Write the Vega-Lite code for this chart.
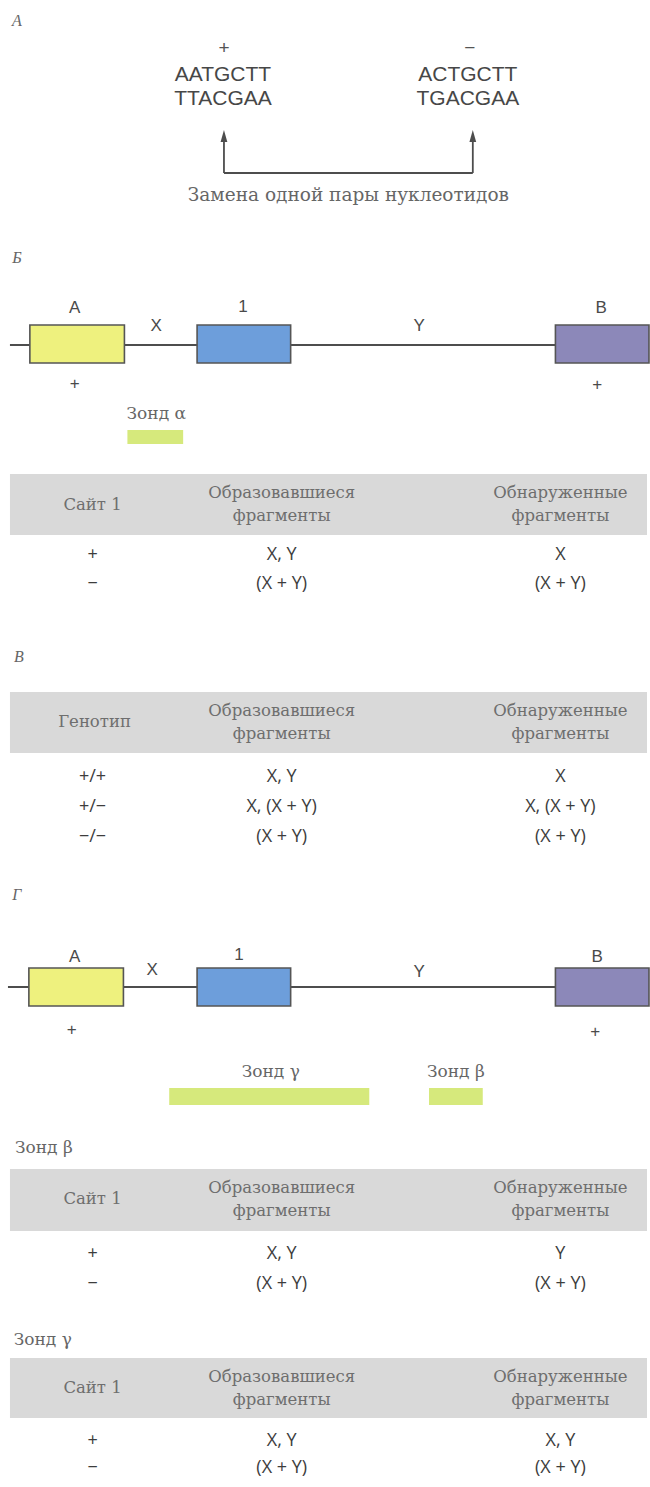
{
  "$schema": "https://vega.github.io/schema/vega-lite/v6.json",
  "autosize": {"type": "fit", "contains": "padding"},
  "width": 650,
  "height": 1487,
  "padding": 0,
  "background": "#ffffff",
  "config": {"view": {"stroke": null}},
  "datasets": {
    "rects": [
      {"kind": "band", "x1": 10, "x2": 650, "y1": 474, "y2": 535},
      {"kind": "band", "x1": 10, "x2": 650, "y1": 692, "y2": 753},
      {"kind": "band", "x1": 10, "x2": 650, "y1": 1169, "y2": 1231},
      {"kind": "band", "x1": 10, "x2": 650, "y1": 1358, "y2": 1418},
      {"kind": "probe", "x1": 128, "x2": 184, "y1": 430, "y2": 444},
      {"kind": "probe", "x1": 170, "x2": 371, "y1": 1088, "y2": 1105},
      {"kind": "probe", "x1": 431, "x2": 485, "y1": 1088, "y2": 1105}
    ],
    "genes": [
      {"gene": "A", "x1": 30, "x2": 125, "y1": 325, "y2": 363},
      {"gene": "1", "x1": 198, "x2": 292, "y1": 325, "y2": 363},
      {"gene": "B", "x1": 558, "x2": 652, "y1": 325, "y2": 363},
      {"gene": "A", "x1": 29, "x2": 124, "y1": 968, "y2": 1006},
      {"gene": "1", "x1": 198, "x2": 292, "y1": 968, "y2": 1006},
      {"gene": "B", "x1": 558, "x2": 652, "y1": 968, "y2": 1006}
    ],
    "rules": [
      {"x1": 10, "x2": 650, "y1": 345, "y2": 345},
      {"x1": 8, "x2": 650, "y1": 987, "y2": 987},
      {"x1": 225, "x2": 225, "y1": 142, "y2": 173},
      {"x1": 475, "x2": 475, "y1": 142, "y2": 173},
      {"x1": 225, "x2": 475, "y1": 173, "y2": 173}
    ],
    "heads": [
      {"x": 225, "y": 136},
      {"x": 475, "y": 136}
    ],
    "texts": [
      {"role": "section", "x": 17, "y": 21, "t": "А"},
      {"role": "section", "x": 17, "y": 258, "t": "Б"},
      {"role": "section", "x": 19, "y": 657, "t": "В"},
      {"role": "section", "x": 17, "y": 895, "t": "Г"},

      {"role": "sign", "x": 225, "y": 48, "t": "+"},
      {"role": "sign", "x": 472, "y": 48, "t": "−"},
      {"role": "dna", "x": 224, "y": 75, "t": "AATGCTT"},
      {"role": "dna", "x": 224, "y": 99, "t": "TTACGAA"},
      {"role": "dna", "x": 470, "y": 75, "t": "ACTGCTT"},
      {"role": "dna", "x": 470, "y": 99, "t": "TGACGAA"},
      {"role": "caption", "x": 350, "y": 195, "t": "Замена одной пары нуклеотидов"},

      {"role": "glabel", "x": 75, "y": 308, "t": "A"},
      {"role": "glabel", "x": 244, "y": 307, "t": "1"},
      {"role": "glabel", "x": 604, "y": 308, "t": "B"},
      {"role": "glabel", "x": 157, "y": 326, "t": "X"},
      {"role": "glabel", "x": 421, "y": 326, "t": "Y"},
      {"role": "glabel", "x": 75, "y": 384, "t": "+"},
      {"role": "glabel", "x": 600, "y": 385, "t": "+"},
      {"role": "probe", "x": 157, "y": 414, "t": "Зонд α"},

      {"role": "header", "x": 93, "y": 505, "t": "Сайт 1"},
      {"role": "header", "x": 283, "y": 493, "t": "Образовавшиеся"},
      {"role": "header", "x": 283, "y": 516, "t": "фрагменты"},
      {"role": "header", "x": 563, "y": 493, "t": "Обнаруженные"},
      {"role": "header", "x": 563, "y": 516, "t": "фрагменты"},
      {"role": "cell", "x": 93, "y": 555, "t": "+"},
      {"role": "cell", "x": 283, "y": 555, "t": "X, Y"},
      {"role": "cell", "x": 563, "y": 555, "t": "X"},
      {"role": "cell", "x": 93, "y": 584, "t": "−"},
      {"role": "cell", "x": 283, "y": 584, "t": "(X + Y)"},
      {"role": "cell", "x": 563, "y": 584, "t": "(X + Y)"},

      {"role": "header", "x": 95, "y": 722, "t": "Генотип"},
      {"role": "header", "x": 283, "y": 711, "t": "Образовавшиеся"},
      {"role": "header", "x": 283, "y": 734, "t": "фрагменты"},
      {"role": "header", "x": 563, "y": 711, "t": "Обнаруженные"},
      {"role": "header", "x": 563, "y": 734, "t": "фрагменты"},
      {"role": "cell", "x": 93, "y": 777, "t": "+/+"},
      {"role": "cell", "x": 283, "y": 777, "t": "X, Y"},
      {"role": "cell", "x": 563, "y": 777, "t": "X"},
      {"role": "cell", "x": 93, "y": 807, "t": "+/−"},
      {"role": "cell", "x": 283, "y": 807, "t": "X, (X + Y)"},
      {"role": "cell", "x": 563, "y": 807, "t": "X, (X + Y)"},
      {"role": "cell", "x": 93, "y": 837, "t": "−/−"},
      {"role": "cell", "x": 283, "y": 837, "t": "(X + Y)"},
      {"role": "cell", "x": 563, "y": 837, "t": "(X + Y)"},

      {"role": "glabel", "x": 75, "y": 957, "t": "A"},
      {"role": "glabel", "x": 240, "y": 955, "t": "1"},
      {"role": "glabel", "x": 600, "y": 957, "t": "B"},
      {"role": "glabel", "x": 153, "y": 970, "t": "X"},
      {"role": "glabel", "x": 421, "y": 972, "t": "Y"},
      {"role": "glabel", "x": 72, "y": 1030, "t": "+"},
      {"role": "glabel", "x": 598, "y": 1032, "t": "+"},
      {"role": "probe", "x": 272, "y": 1072, "t": "Зонд γ"},
      {"role": "probe", "x": 458, "y": 1072, "t": "Зонд β"},

      {"role": "probe", "x": 44, "y": 1148, "t": "Зонд β"},
      {"role": "header", "x": 93, "y": 1199, "t": "Сайт 1"},
      {"role": "header", "x": 283, "y": 1188, "t": "Образовавшиеся"},
      {"role": "header", "x": 283, "y": 1211, "t": "фрагменты"},
      {"role": "header", "x": 563, "y": 1188, "t": "Обнаруженные"},
      {"role": "header", "x": 563, "y": 1211, "t": "фрагменты"},
      {"role": "cell", "x": 93, "y": 1254, "t": "+"},
      {"role": "cell", "x": 283, "y": 1254, "t": "X, Y"},
      {"role": "cell", "x": 563, "y": 1254, "t": "Y"},
      {"role": "cell", "x": 93, "y": 1284, "t": "−"},
      {"role": "cell", "x": 283, "y": 1284, "t": "(X + Y)"},
      {"role": "cell", "x": 563, "y": 1284, "t": "(X + Y)"},

      {"role": "probe", "x": 43, "y": 1340, "t": "Зонд γ"},
      {"role": "header", "x": 93, "y": 1388, "t": "Сайт 1"},
      {"role": "header", "x": 283, "y": 1377, "t": "Образовавшиеся"},
      {"role": "header", "x": 283, "y": 1400, "t": "фрагменты"},
      {"role": "header", "x": 563, "y": 1377, "t": "Обнаруженные"},
      {"role": "header", "x": 563, "y": 1400, "t": "фрагменты"},
      {"role": "cell", "x": 93, "y": 1441, "t": "+"},
      {"role": "cell", "x": 283, "y": 1441, "t": "X, Y"},
      {"role": "cell", "x": 563, "y": 1441, "t": "X, Y"},
      {"role": "cell", "x": 93, "y": 1468, "t": "−"},
      {"role": "cell", "x": 283, "y": 1468, "t": "(X + Y)"},
      {"role": "cell", "x": 563, "y": 1468, "t": "(X + Y)"}
    ]
  },
  "layer": [
    {
      "data": {"name": "rects"},
      "transform": [{"filter": "datum.kind === 'band'"}],
      "mark": {"type": "rect", "color": "#d9d9d9"},
      "encoding": {
        "x": {"field": "x1", "type": "quantitative", "scale": {"domain": [0, 650], "nice": false, "zero": false}, "axis": null},
        "x2": {"field": "x2"},
        "y": {"field": "y1", "type": "quantitative", "scale": {"domain": [0, 1487], "nice": false, "zero": false, "reverse": true}, "axis": null},
        "y2": {"field": "y2"}
      }
    },
    {
      "data": {"name": "rects"},
      "transform": [{"filter": "datum.kind === 'probe'"}],
      "mark": {"type": "rect", "color": "#d6e97c"},
      "encoding": {
        "x": {"field": "x1", "type": "quantitative", "axis": null},
        "x2": {"field": "x2"},
        "y": {"field": "y1", "type": "quantitative", "axis": null},
        "y2": {"field": "y2"}
      }
    },
    {
      "data": {"name": "rules"},
      "mark": {"type": "rule", "color": "#4d4d4d", "strokeWidth": 1.8},
      "encoding": {
        "x": {"field": "x1", "type": "quantitative", "axis": null},
        "x2": {"field": "x2"},
        "y": {"field": "y1", "type": "quantitative", "axis": null},
        "y2": {"field": "y2"}
      }
    },
    {
      "data": {"name": "heads"},
      "mark": {"type": "point", "shape": "M -0.55 1 L 0 -1 L 0.55 1 Z", "filled": true, "color": "#4d4d4d", "size": 150, "opacity": 1},
      "encoding": {
        "x": {"field": "x", "type": "quantitative", "axis": null},
        "y": {"field": "y", "type": "quantitative", "axis": null}
      }
    },
    {
      "data": {"name": "genes"},
      "mark": {"type": "rect", "stroke": "#555555", "strokeWidth": 1.6},
      "encoding": {
        "x": {"field": "x1", "type": "quantitative", "axis": null},
        "x2": {"field": "x2"},
        "y": {"field": "y1", "type": "quantitative", "axis": null},
        "y2": {"field": "y2"},
        "fill": {"field": "gene", "type": "nominal", "scale": {"domain": ["A", "1", "B"], "range": ["#eef17e", "#6d9edb", "#8c88b9"]}, "legend": null}
      }
    },
    {
      "data": {"name": "texts"},
      "transform": [{"filter": "datum.role === 'section'"}],
      "mark": {"type": "text", "font": "Liberation Serif", "fontStyle": "italic", "fontSize": 16, "color": "#666666", "baseline": "middle"},
      "encoding": {
        "x": {"field": "x", "type": "quantitative", "axis": null},
        "y": {"field": "y", "type": "quantitative", "axis": null},
        "text": {"field": "t"}
      }
    },
    {
      "data": {"name": "texts"},
      "transform": [{"filter": "datum.role === 'dna'"}],
      "mark": {"type": "text", "font": "Liberation Sans", "fontSize": 21, "color": "#474747", "baseline": "middle"},
      "encoding": {
        "x": {"field": "x", "type": "quantitative", "axis": null},
        "y": {"field": "y", "type": "quantitative", "axis": null},
        "text": {"field": "t"}
      }
    },
    {
      "data": {"name": "texts"},
      "transform": [{"filter": "datum.role === 'sign'"}],
      "mark": {"type": "text", "font": "Liberation Sans", "fontSize": 19, "color": "#555555", "baseline": "middle"},
      "encoding": {
        "x": {"field": "x", "type": "quantitative", "axis": null},
        "y": {"field": "y", "type": "quantitative", "axis": null},
        "text": {"field": "t"}
      }
    },
    {
      "data": {"name": "texts"},
      "transform": [{"filter": "datum.role === 'caption'"}],
      "mark": {"type": "text", "font": "DejaVu Serif", "fontSize": 18.5, "color": "#666666", "baseline": "middle"},
      "encoding": {
        "x": {"field": "x", "type": "quantitative", "axis": null},
        "y": {"field": "y", "type": "quantitative", "axis": null},
        "text": {"field": "t"}
      }
    },
    {
      "data": {"name": "texts"},
      "transform": [{"filter": "datum.role === 'glabel'"}],
      "mark": {"type": "text", "font": "Liberation Sans", "fontSize": 17, "color": "#4a4a4a", "baseline": "middle"},
      "encoding": {
        "x": {"field": "x", "type": "quantitative", "axis": null},
        "y": {"field": "y", "type": "quantitative", "axis": null},
        "text": {"field": "t"}
      }
    },
    {
      "data": {"name": "texts"},
      "transform": [{"filter": "datum.role === 'probe'"}],
      "mark": {"type": "text", "font": "DejaVu Serif", "fontSize": 17, "color": "#666666", "baseline": "middle"},
      "encoding": {
        "x": {"field": "x", "type": "quantitative", "axis": null},
        "y": {"field": "y", "type": "quantitative", "axis": null},
        "text": {"field": "t"}
      }
    },
    {
      "data": {"name": "texts"},
      "transform": [{"filter": "datum.role === 'header'"}],
      "mark": {"type": "text", "font": "DejaVu Serif", "fontSize": 16.5, "color": "#6e6e6e", "baseline": "middle"},
      "encoding": {
        "x": {"field": "x", "type": "quantitative", "axis": null},
        "y": {"field": "y", "type": "quantitative", "axis": null},
        "text": {"field": "t"}
      }
    },
    {
      "data": {"name": "texts"},
      "transform": [{"filter": "datum.role === 'cell'"}],
      "mark": {"type": "text", "font": "Open Sans", "fontSize": 18, "color": "#3d3d3d", "baseline": "middle"},
      "encoding": {
        "x": {"field": "x", "type": "quantitative", "axis": null},
        "y": {"field": "y", "type": "quantitative", "axis": null},
        "text": {"field": "t"}
      }
    }
  ]
}
